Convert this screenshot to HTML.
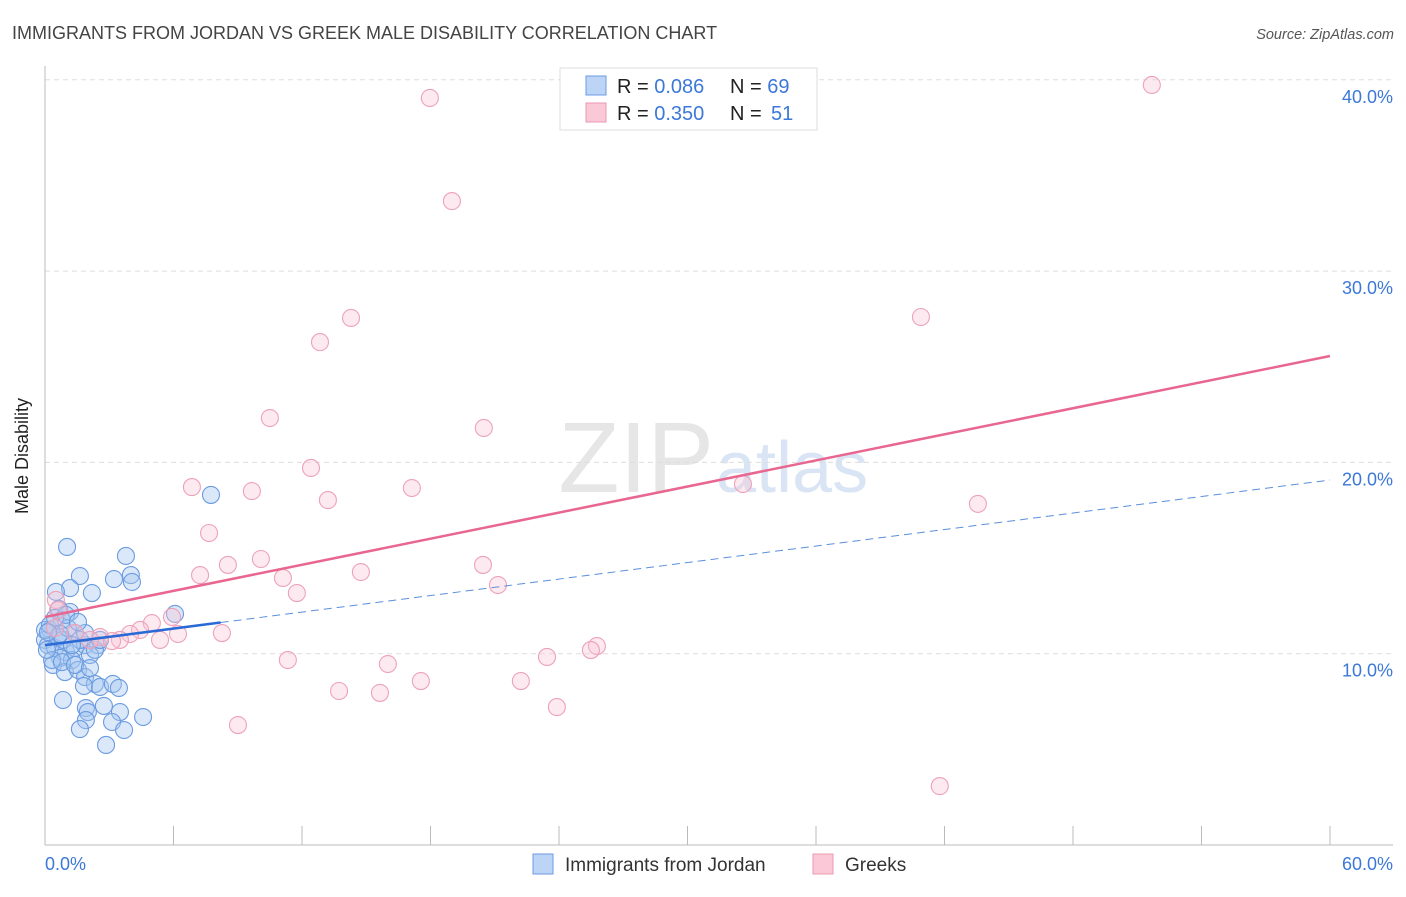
<!DOCTYPE html>
<html><head><meta charset="utf-8"><style>
body{margin:0;background:#fff;font-family:"Liberation Sans",sans-serif;}
svg text{font-family:"Liberation Sans",sans-serif;}
</style></head><body>
<svg id="chart" width="1406" height="892" viewBox="0 0 1406 892">
<text x="12" y="39" font-size="18" fill="#444">IMMIGRANTS FROM JORDAN VS GREEK MALE DISABILITY CORRELATION CHART</text>
<text x="1394" y="39" font-size="14.5" fill="#555" text-anchor="end" font-style="italic">Source: ZipAtlas.com</text>
<text x="714" y="492" font-size="100" fill="#e6e6e6" text-anchor="end" font-family="Liberation Serif">ZIP</text>
<text x="716" y="492" font-size="72" fill="#d9e5f4">atlas</text>
<g id="grid"></g>
<line x1="45" y1="66" x2="45" y2="845" stroke="#bbb"/>
<line x1="45" y1="845" x2="1393" y2="845" stroke="#bbb"/>
<text x="28" y="456" font-size="18" fill="#222" text-anchor="middle" transform="rotate(-90 28 456)">Male Disability</text>
<text x="45" y="870" font-size="18" fill="#3b78d8">0.0%</text>
<text x="1393" y="870" font-size="18" fill="#3b78d8" text-anchor="end">60.0%</text>
<g id="points"></g>
<g id="lines"></g>
<g>
<rect x="560" y="68" width="257" height="62" fill="#fff" stroke="#ddd"/>
<rect x="586" y="76" width="20" height="19" fill="#bcd5f7" stroke="#6b9be0"/>
<rect x="586" y="103" width="20" height="19" fill="#fbc8d7" stroke="#eb98b2"/>
<text x="617" y="93" font-size="20" fill="#222">R = <tspan fill="#3b78d8">0.086</tspan><tspan x="730">N = </tspan><tspan fill="#3b78d8">69</tspan></text>
<text x="617" y="120" font-size="20" fill="#222">R = <tspan fill="#3b78d8">0.350</tspan><tspan x="730">N = </tspan><tspan fill="#3b78d8" x="771">51</tspan></text>
</g>
<g>
<rect x="533" y="854" width="20" height="20" fill="#bcd5f7" stroke="#6b9be0"/>
<text x="565" y="871" font-size="19" fill="#333">Immigrants from Jordan</text>
<rect x="813" y="854" width="20" height="20" fill="#fbc8d7" stroke="#eb98b2"/>
<text x="845" y="871" font-size="19" fill="#333">Greeks</text>
</g>
</svg>
<script>
const yTicks=[10,20,30,40];
const yTickLabels=["10.0%","20.0%","30.0%","40.0%"];
const xTicks=[0,6,12,18,24,30,36,42,48,54,60];
const blueX=[1.03,3.78,1.63,3.22,4.01,4.06,1.17,0.51,2.19,0.65,1.17,6.07,7.75,0.23,0.79,1.4,0,0.14,0.47,0.98,1.4,1.87,2.47,0.7,1.26,0.37,0.93,1.54,1.87,2.33,1.82,2.57,3.17,3.45,0.84,1.91,2.0,2.75,3.5,4.58,1.91,3.13,1.63,3.69,2.85,0,0.23,0.61,0.84,1.07,1.63,2.1,0.33,0.09,0.7,1.26,1.87,2.33,0.47,0.98,1.54,0.14,0.79,1.4,2.1,2.57];
const blueY=[15.58,15.11,14.06,13.9,14.11,13.75,13.43,13.23,13.17,12.34,12.18,12.08,18.3,11.24,11.76,11.08,10.72,10.45,10.3,10.09,10.3,10.45,10.45,9.78,9.67,9.41,9.04,9.15,8.78,8.42,8.31,8.26,8.42,8.21,7.58,7.16,6.95,7.27,6.95,6.69,6.53,6.43,6.06,6.01,5.23,11.24,11.5,10.87,10.72,11.34,10.72,9.93,9.67,10.2,11.03,10.45,11.08,10.2,11.87,12.03,11.66,11.13,9.56,9.41,9.25,10.72];
const pinkX=[51.68,17.97,19.0,14.29,40.9,12.84,10.5,20.49,12.42,6.86,9.66,17.13,13.21,32.59,43.56,7.66,10.08,8.54,20.45,14.75,7.24,11.11,21.15,11.76,0.51,0.61,5.93,4.99,4.44,3.97,0.47,1.4,2.57,3.5,6.21,8.26,5.37,3.13,2.1,25.77,25.49,23.44,11.34,16.01,17.55,22.22,13.73,15.64,23.9,9.01,41.78];
const pinkY=[39.73,39.05,33.66,27.55,27.6,26.29,22.32,21.8,19.71,18.71,18.5,18.66,18.03,18.87,17.83,16.31,14.95,14.64,14.64,14.27,14.11,13.96,13.59,13.17,12.81,12.28,11.92,11.6,11.24,11.03,11.34,11.08,10.87,10.72,11.03,11.08,10.72,10.66,10.72,10.4,10.19,9.83,9.67,9.46,8.57,8.57,8.05,7.95,7.21,6.27,3.08];
const blueLine=[10.45,19.08];
const pinkLine=[11.92,25.56];
const sx=v=>45+v*(1330-45)/60;
const sy=v=>845-v*19.13;
const NS="http://www.w3.org/2000/svg";
function mk(t,a,p){const e=document.createElementNS(NS,t);for(const k in a)e.setAttribute(k,a[k]);p.appendChild(e);return e;}
const grid=document.getElementById('grid');
yTicks.forEach((v,i)=>{
 const l=mk('line',{x1:45,x2:1393,y1:sy(v),y2:sy(v),stroke:'#ddd','stroke-dasharray':'5,4'},grid);
 
 
 const t=mk('text',{x:1393,y:sy(v)+23,'font-size':18,fill:'#3b78d8','text-anchor':'end'},grid);
 t.textContent=yTickLabels[i];
 
 
});
xTicks.forEach(v=>{
 const l=mk('line',{x1:sx(v),x2:sx(v),y1:826,y2:845,stroke:'#bbb'},grid);
 
 
});
const pts=document.getElementById('points');
blueX.forEach((x,i)=>{
 const c=mk('circle',{cx:sx(x),cy:sy(blueY[i]),r:8.5,fill:'rgba(165,198,240,0.4)',stroke:'#6b9be0','stroke-width':1.1},pts);
 
 
});
pinkX.forEach((x,i)=>{
 const c=mk('circle',{cx:sx(x),cy:sy(pinkY[i]),r:8.5,fill:'rgba(248,195,212,0.35)',stroke:'#eda2b9','stroke-width':1.1},pts);
 
 
});
const lines=document.getElementById('lines');
const by=x=>blueLine[0]+(blueLine[1]-blueLine[0])*x/60;
let l1=mk('line',{x1:sx(8.2),y1:sy(by(8.2)),x2:sx(60),y2:sy(by(60)),stroke:'#5b8fdc','stroke-width':1,'stroke-dasharray':'8,5'},lines);


let l2=mk('line',{x1:sx(0),y1:sy(by(0)),x2:sx(8.2),y2:sy(by(8.2)),stroke:'#2a6ad6','stroke-width':2.5},lines);


let l3=mk('line',{x1:sx(0),y1:sy(pinkLine[0]),x2:sx(60),y2:sy(pinkLine[1]),stroke:'#e8668f','stroke-width':2.5},lines);


</script>
</body></html>
